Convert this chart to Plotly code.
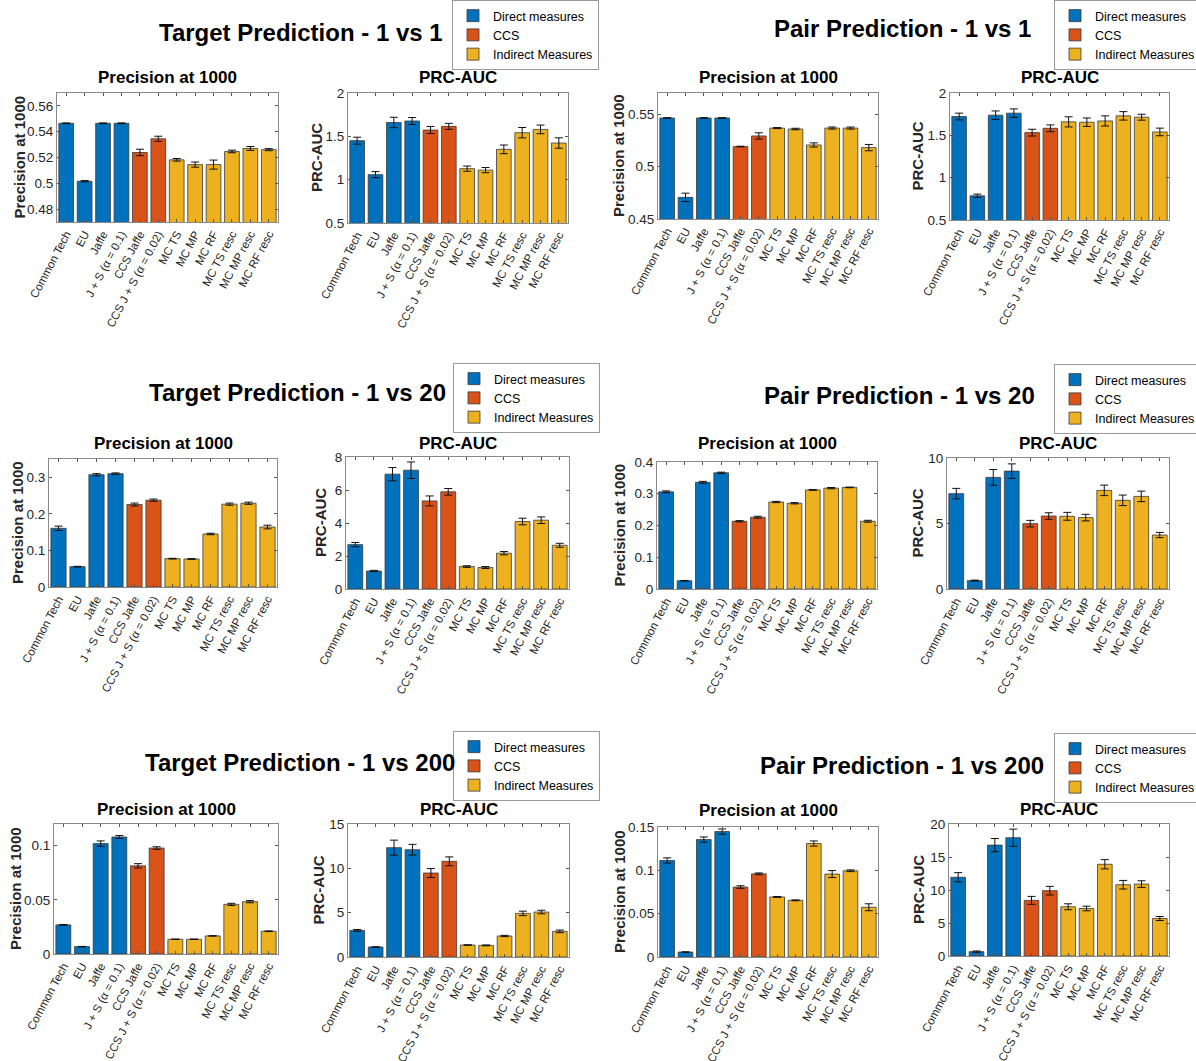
import plotly.graph_objects as go

# ---------------- data ----------------
categories = ["Common Tech", "EU", "Jaffe", "J + S (α = 0.1)", "CCS Jaffe",
              "CCS J + S (α = 0.02)", "MC TS", "MC MP", "MC RF",
              "MC TS resc", "MC MP resc", "MC RF resc"]
category_group = ["Direct measures"] * 4 + ["CCS"] * 2 + ["Indirect Measures"] * 6
group_names = ["Direct measures", "CCS", "Indirect Measures"]
group_colors = ["#0072BD", "#D95319", "#EDB120"]

panel_titles = ["Precision at 1000", "PRC-AUC"]
group_titles = ["Target Prediction - 1 vs 1", "Pair Prediction - 1 vs 1",
                "Target Prediction - 1 vs 20", "Pair Prediction - 1 vs 20",
                "Target Prediction - 1 vs 200", "Pair Prediction - 1 vs 200"]

target_1v1_p1000 = [0.5465, 0.5016, 0.5465, 0.5465, 0.5239, 0.5345, 0.5182, 0.5145, 0.5145, 0.5247, 0.5270, 0.5261]
target_1v1_p1000_err = [0.0003, 0.0005, 0.0003, 0.0003, 0.0025, 0.002, 0.001, 0.002, 0.0035, 0.001, 0.0015, 0.0008]
target_1v1_prc = [1.45, 1.058, 1.66, 1.677, 1.573, 1.615, 1.127, 1.11, 1.35, 1.542, 1.58, 1.423]
target_1v1_prc_err = [0.04, 0.035, 0.06, 0.04, 0.04, 0.035, 0.03, 0.03, 0.05, 0.06, 0.05, 0.06]
pair_1v1_p1000 = [0.5462, 0.4706, 0.5462, 0.5462, 0.519, 0.5291, 0.5366, 0.5357, 0.5205, 0.5366, 0.5366, 0.518]
pair_1v1_p1000_err = [0.0003, 0.004, 0.0003, 0.0003, 0.0003, 0.003, 0.0005, 0.0007, 0.002, 0.001, 0.001, 0.003]
pair_1v1_prc = [1.722, 0.786, 1.738, 1.762, 1.532, 1.583, 1.659, 1.655, 1.67, 1.73, 1.714, 1.54]
pair_1v1_prc_err = [0.04, 0.02, 0.05, 0.05, 0.04, 0.04, 0.06, 0.05, 0.06, 0.05, 0.035, 0.045]

target_1v20_p1000 = [0.1605, 0.0556, 0.307, 0.310, 0.2255, 0.2374, 0.0775, 0.0766, 0.145, 0.2265, 0.229, 0.164]
target_1v20_p1000_err = [0.006, 0.001, 0.003, 0.002, 0.004, 0.003, 0.001, 0.001, 0.002, 0.003, 0.003, 0.005]
target_1v20_prc = [2.69, 1.09, 6.96, 7.2, 5.34, 5.89, 1.36, 1.3, 2.17, 4.09, 4.17, 2.65]
target_1v20_prc_err = [0.13, 0.04, 0.4, 0.5, 0.3, 0.2, 0.05, 0.06, 0.1, 0.2, 0.2, 0.12]
pair_1v20_p1000 = [0.306, 0.026, 0.336, 0.366, 0.2134, 0.226, 0.274, 0.270, 0.312, 0.3176, 0.320, 0.2134]
pair_1v20_p1000_err = [0.003, 0.001, 0.003, 0.002, 0.002, 0.003, 0.002, 0.002, 0.001, 0.002, 0.001, 0.003]
pair_1v20_prc = [7.28, 0.64, 8.52, 9.0, 4.99, 5.57, 5.55, 5.45, 7.53, 6.77, 7.07, 4.12]
pair_1v20_prc_err = [0.4, 0.04, 0.6, 0.55, 0.25, 0.25, 0.3, 0.25, 0.4, 0.4, 0.4, 0.2]

target_1v200_p1000 = [0.0269, 0.0068, 0.1019, 0.108, 0.0814, 0.0978, 0.0136, 0.0136, 0.0167, 0.0458, 0.0483, 0.021]
target_1v200_p1000_err = [0.0003, 0.0002, 0.0025, 0.0013, 0.002, 0.0012, 0.0002, 0.0002, 0.0002, 0.001, 0.001, 0.0003]
target_1v200_prc = [3.0, 1.13, 12.33, 12.1, 9.47, 10.79, 1.35, 1.31, 2.37, 4.92, 5.07, 2.89]
target_1v200_prc_err = [0.1, 0.03, 0.85, 0.6, 0.5, 0.5, 0.03, 0.05, 0.07, 0.25, 0.2, 0.15]
pair_1v200_p1000 = [0.1114, 0.0057, 0.1355, 0.1447, 0.0807, 0.096, 0.0693, 0.0654, 0.1309, 0.0957, 0.0995, 0.0574]
pair_1v200_p1000_err = [0.003, 0.0003, 0.003, 0.003, 0.0015, 0.001, 0.0005, 0.0005, 0.003, 0.004, 0.001, 0.004]
pair_1v200_prc = [11.93, 0.66, 16.8, 17.92, 8.43, 9.9, 7.46, 7.2, 13.9, 10.8, 10.9, 5.68]
pair_1v200_prc_err = [0.7, 0.1, 1.0, 1.3, 0.6, 0.65, 0.45, 0.35, 0.7, 0.65, 0.5, 0.3]

y_ticks = [
    [0.48, 0.50, 0.52, 0.54, 0.56], [0.5, 1, 1.5, 2], [0.45, 0.5, 0.55], [0.5, 1, 1.5, 2],
    [0, 0.1, 0.2, 0.3], [0, 2, 4, 6, 8], [0, 0.1, 0.2, 0.3, 0.4], [0, 5, 10],
    [0, 0.05, 0.1], [0, 5, 10, 15], [0, 0.05, 0.1, 0.15], [0, 5, 10, 15, 20],
]
y_ranges = [
    [0.47, 0.57], [0.5, 2], [0.45, 0.57], [0.5, 2],
    [0, 0.35], [0, 8], [0, 0.4], [0, 10],
    [0, 0.12], [0, 15], [0, 0.15], [0, 20],
]

panel_values = [
    (target_1v1_p1000, target_1v1_p1000_err), (target_1v1_prc, target_1v1_prc_err),
    (pair_1v1_p1000, pair_1v1_p1000_err), (pair_1v1_prc, pair_1v1_prc_err),
    (target_1v20_p1000, target_1v20_p1000_err), (target_1v20_prc, target_1v20_prc_err),
    (pair_1v20_p1000, pair_1v20_p1000_err), (pair_1v20_prc, pair_1v20_prc_err),
    (target_1v200_p1000, target_1v200_p1000_err), (target_1v200_prc, target_1v200_prc_err),
    (pair_1v200_p1000, pair_1v200_p1000_err), (pair_1v200_prc, pair_1v200_prc_err),
]

# ---------------- layout geometry (pixels) ----------------
W, H = 1196, 1061
axes_px = [
    (57, 278, 93, 222), (348, 568, 93, 223), (658, 878, 93, 219), (950, 1169, 93, 220),
    (49, 277, 459, 587), (346, 569, 457, 589), (657, 877, 462, 589), (947, 1169, 458, 589),
    (54, 278, 824, 954), (348, 569, 824, 957), (658, 878, 827, 957), (949, 1169, 824, 956),
]
ytitle_x = [19, 316, 619, 917, 17, 320, 619, 917, 15, 318, 619, 918]
ptitle_y = [78, 78, 78, 78, 443, 443, 443, 443, 809, 809, 810, 809]
gtitle_pos = [(301, 32), (902, 28), (297, 392), (899, 395), (300, 762), (902, 765)]
legend_pos = [(452, 0), (1054, 0), (453, 363), (1054, 364), (453, 731), (1054, 733)]

FONT = "Liberation Sans, Arial, Helvetica, sans-serif"


def px_x(x):
    return x / W


def px_y(y):
    return 1 - y / H


def fmt(v):
    return f"{v:g}"


fig = go.Figure()
annotations = []
layout = {}

for i, ((vals, errs), (x0, x1, y0, y1)) in enumerate(zip(panel_values, axes_px)):
    n = i + 1
    xa = "x" if n == 1 else f"x{n}"
    ya = "y" if n == 1 else f"y{n}"
    group_idx = i // 2
    legend_name = "legend" if group_idx == 0 else f"legend{group_idx + 1}"
    for g, (gname, gcol) in enumerate(zip(group_names, group_colors)):
        idx = [k for k, cg in enumerate(category_group) if cg == gname]
        fig.add_trace(go.Bar(
            x=[categories[k] for k in idx],
            y=[vals[k] for k in idx],
            error_y=dict(type="data", array=[errs[k] for k in idx], color="#111111",
                         thickness=1, width=4),
            marker=dict(color=gcol, line=dict(color="#3a3a3a", width=0.8)),
            width=0.8,
            name=gname,
            legend=legend_name,
            legendgroup=f"{legend_name}_{gname}",
            showlegend=(i % 2 == 0),
            xaxis=xa, yaxis=ya,
        ))
    axis_common = dict(showline=True, linecolor="#8a8a8a", linewidth=1, mirror="ticks",
                       ticks="inside", ticklen=3, tickcolor="#555555", showgrid=False,
                       zeroline=False)
    layout["xaxis" if n == 1 else f"xaxis{n}"] = dict(
        domain=[px_x(x0), px_x(x1)], anchor=ya, type="category",
        categoryorder="array", categoryarray=categories, range=[-0.5, 11.5],
        tickangle=-62, tickfont=dict(family=FONT, size=11.5, color="#262626"),
        **axis_common)
    layout["yaxis" if n == 1 else f"yaxis{n}"] = dict(
        domain=[px_y(y1), px_y(y0)], anchor=xa, range=y_ranges[i],
        tickvals=y_ticks[i], ticktext=[fmt(v) for v in y_ticks[i]],
        tickfont=dict(family=FONT, size=13.5, color="#262626"),
        **axis_common)
    # panel title
    annotations.append(dict(
        text=f"<b>{panel_titles[i % 2]}</b>", xref="paper", yref="paper",
        x=px_x((x0 + x1) / 2), y=px_y(ptitle_y[i]), xanchor="center", yanchor="middle",
        showarrow=False, font=dict(family=FONT, size=17, color="black")))
    # y axis title
    annotations.append(dict(
        text=f"<b>{panel_titles[i % 2]}</b>", xref="paper", yref="paper",
        x=px_x(ytitle_x[i]), y=px_y((y0 + y1) / 2), xanchor="center", yanchor="middle",
        textangle=-90, showarrow=False, font=dict(family=FONT, size=15, color="#262626")))

for j, (t, (gx, gy)) in enumerate(zip(group_titles, gtitle_pos)):
    annotations.append(dict(
        text=f"<b>{t}</b>", xref="paper", yref="paper", x=px_x(gx), y=px_y(gy),
        xanchor="center", yanchor="middle", showarrow=False,
        font=dict(family=FONT, size=24, color="black")))

for j, (lx, ly) in enumerate(legend_pos):
    name = "legend" if j == 0 else f"legend{j + 1}"
    layout[name] = dict(
        x=px_x(lx), y=px_y(ly), xanchor="left", yanchor="top",
        bgcolor="white", bordercolor="#9a9a9a", borderwidth=1,
        font=dict(family=FONT, size=12.5, color="black"),
        tracegroupgap=0, itemwidth=30, traceorder="normal", itemclick=False)

fig.update_layout(
    width=W, height=H, template="none",
    margin=dict(l=0, r=0, t=0, b=0, autoexpand=False),
    paper_bgcolor="white", plot_bgcolor="white",
    barmode="overlay", bargap=0.2,
    font=dict(family=FONT, color="#262626"),
    annotations=annotations,
    **layout,
)

fig.write_html(
    "out.html",
    config={"displayModeBar": False},
    post_script="document.body.style.margin='0';document.body.style.overflow='hidden';",
)
